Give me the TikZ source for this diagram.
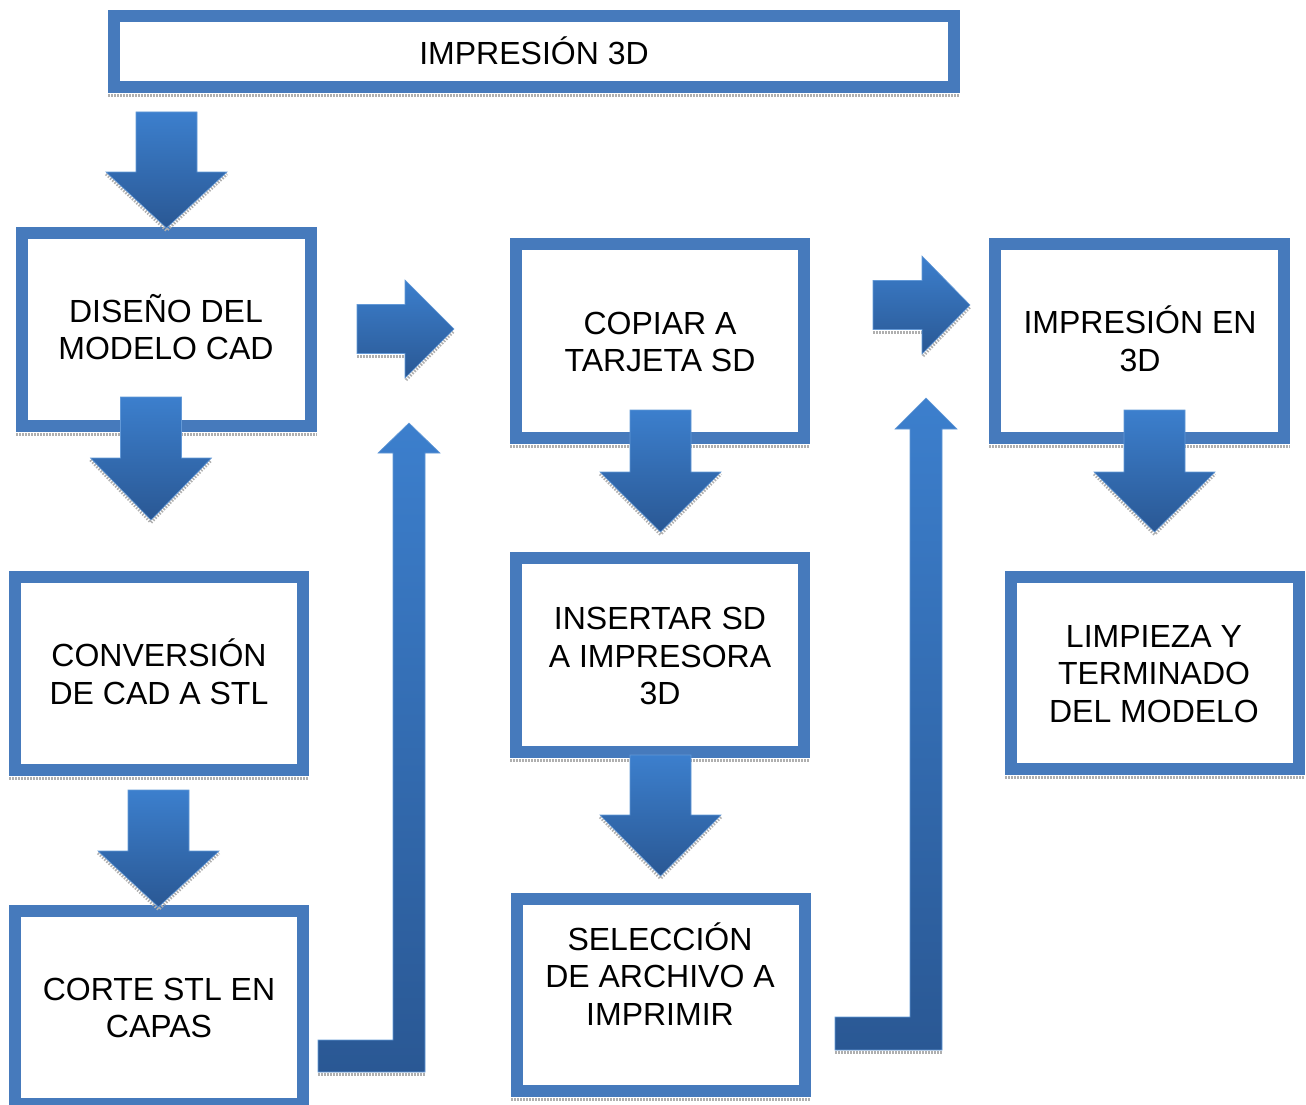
\documentclass[tikz,border=0pt]{standalone}
\usepackage{fontspec}
\setmainfont{Liberation Sans}
\definecolor{boxblue}{RGB}{70,122,188}
\definecolor{arrtop}{RGB}{60,127,205}
\definecolor{arrbot}{RGB}{42,88,148}
\definecolor{shadowgray}{RGB}{175,175,175}
\newcommand\flowbox[5]{%
  \draw[shadowline] (#2,#5+2.5) -- (#4,#5+2.5);
  \node[stepbox, minimum width={#4-#2-12}, minimum height={#5-#3-12}] (#1) at ({(#2+#4)/2},{(#3+#5)/2}) {};}
\newcommand\downblock[4]{% cx, top, base, tip
  \draw[shadowline] (#1-60.5,#3+2) -- (#1,#4+2.5) -- (#1+60.5,#3+2);
  \shade[arrowfill] (#1-30.5,#2) -- (#1+30.5,#2) -- (#1+30.5,#3) -- (#1+60.5,#3) -- (#1,#4) -- (#1-60.5,#3) -- (#1-30.5,#3) -- cycle;}
\newcommand\rightblock[4]{% left, base, tip, cy
  \draw[shadowline] (#1,#4+27) -- (#2,#4+27);
  \draw[shadowline] (#2+1,#4+51) -- (#3,#4+2);
  \shade[arrowfill] (#1,#4-24.5) -- (#2,#4-24.5) -- (#2,#4-49) -- (#3,#4) -- (#2,#4+49) -- (#2,#4+24.5) -- (#1,#4+24.5) -- cycle;}
\begin{document}
\begin{tikzpicture}[x=1pt,y=-1pt,
  stepbox/.style={draw=boxblue, line width=12pt, fill=white, inner sep=0pt, outer sep=0pt},
  shadowline/.style={shadowgray, line width=3pt, dash pattern=on 1.5pt off 1.5pt},
  arrowfill/.style={top color=arrtop, bottom color=arrbot, draw=arrtop!80!white, line width=0.6pt},
  lbl/.style={align=center, inner sep=0pt, font=\fontsize{32pt}{37.5pt}\selectfont}]
\useasboundingbox (0,0) rectangle (1306,1105);
\clip (0,0) rectangle (1306,1105);
\fill[white] (0,0) rectangle (1306,1105);
% boxes
\flowbox{top}{108}{10}{960}{93}
\flowbox{cad}{16}{227}{317}{432}
\flowbox{conv}{9}{571}{309}{776}
\flowbox{corte}{9}{905}{309}{1110}
\flowbox{copiar}{510}{238}{810}{444}
\flowbox{insertar}{510}{552}{810}{758}
\flowbox{selec}{511}{893}{811}{1097}
\flowbox{impr}{989}{238}{1290}{444}
\flowbox{limp}{1005}{571}{1305}{775}
% texts
\node[lbl] (ttop) at (534,51) {IMPRESIÓN 3D};
\node[lbl] (tcad) at (166,327) {DISEÑO DEL\\MODELO CAD};
\node[lbl] (tconv) at (159,672) {CONVERSIÓN\\DE CAD A STL};
\node[lbl] (tcorte) at (159,1008) {CORTE STL EN\\CAPAS};
\node[lbl] (tcopiar) at (660,342) {COPIAR A\\TARJETA SD};
\node[lbl] (tinsertar) at (660,656) {INSERTAR SD\\A IMPRESORA\\3D};
\node[lbl] (tselec) at (660,974) {SELECCIÓN\\DE ARCHIVO A\\IMPRIMIR};
\node[lbl] (timpr) at (1140,339) {IMPRESIÓN EN\\3D};
\node[lbl] (tlimp) at (1154,674) {LIMPIEZA Y\\TERMINADO\\DEL MODELO};
% down arrows
\downblock{166.5}{112}{172}{228}
\downblock{151}{397}{458}{520}
\downblock{158.5}{790}{851}{907}
\downblock{660.5}{410}{472}{532}
\downblock{660.5}{755}{815}{876}
\downblock{1154.5}{410}{472}{532}
% right arrows
\rightblock{357}{405}{454}{329}
\rightblock{873}{922}{970}{305}
% L-shaped up arrows
\draw[shadowline] (318,1074.5) -- (425,1074.5);
\shade[arrowfill] (318,1072) -- (425,1072) -- (425,453) -- (440,453) -- (409,423) -- (378,453) -- (393,453) -- (393,1040) -- (318,1040) -- cycle;
\draw[shadowline] (835,1052.5) -- (942,1052.5);
\shade[arrowfill] (835,1050) -- (942,1050) -- (942,429) -- (957,429) -- (926,398) -- (895,429) -- (910,429) -- (910,1017) -- (835,1017) -- cycle;
\end{tikzpicture}
\end{document}
